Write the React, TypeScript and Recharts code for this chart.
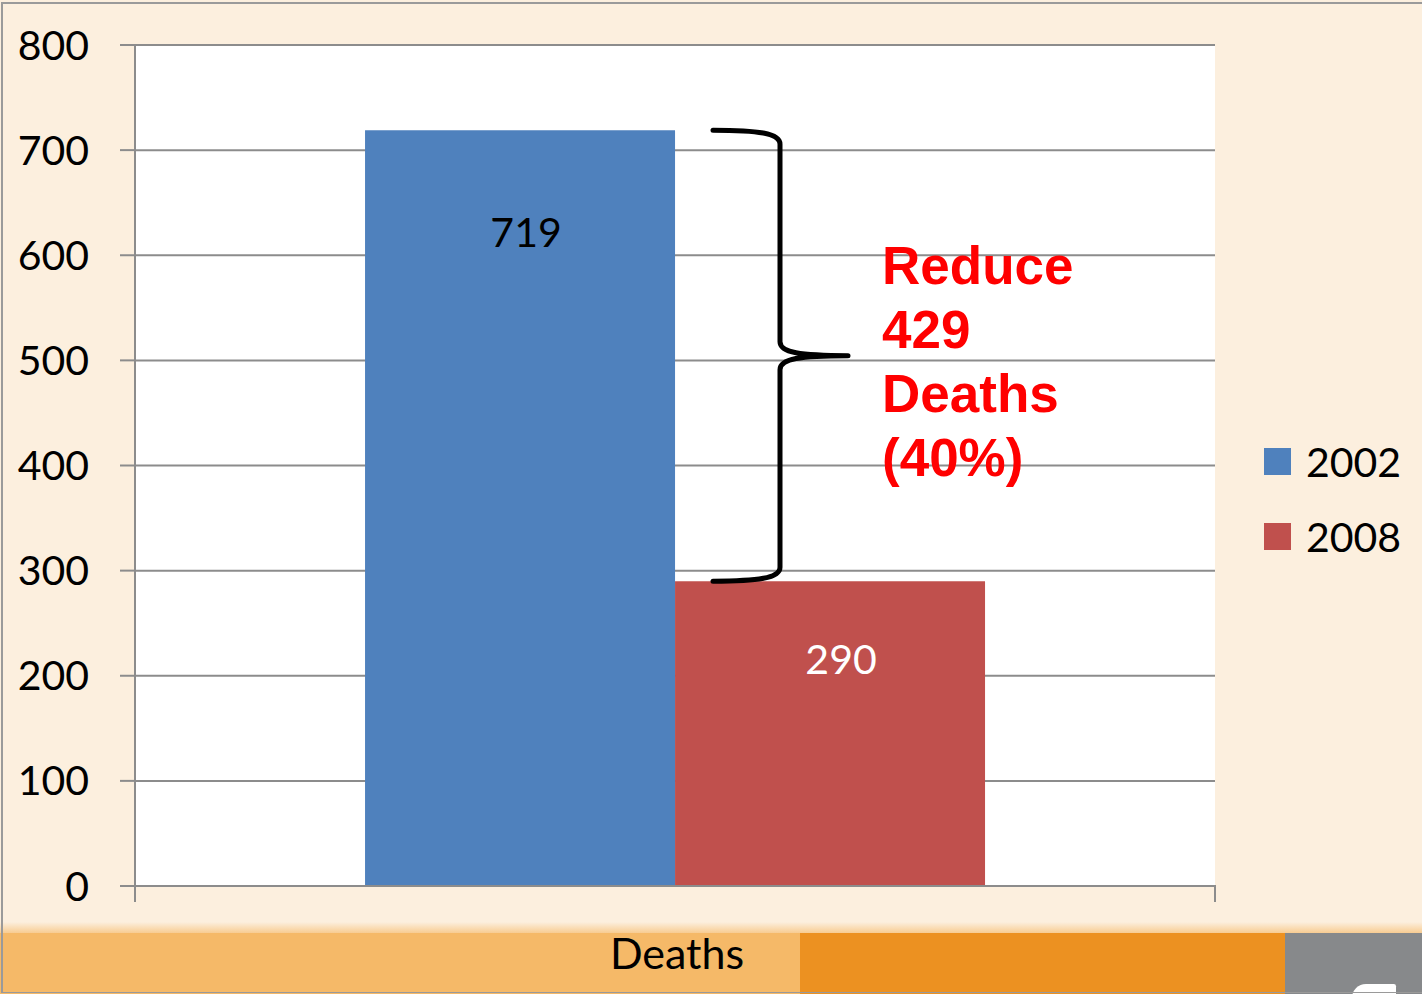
import React from 'react';
import {
  BarChart,
  Bar,
  XAxis,
  YAxis,
  CartesianGrid,
  Legend,
  LabelList,
  ReferenceLine,
} from 'recharts';

// values
const categories = ['Deaths'];
const deaths2002 = [719];
const deaths2008 = [290];
const yTicks = [0, 100, 200, 300, 400, 500, 600, 700, 800];
const noteLines = ['Reduce', '429', 'Deaths', '(40%)'];

const data = categories.map((c, i) => ({
  category: c,
  y2002: deaths2002[i],
  y2008: deaths2008[i],
}));

const CREAM = '#FCEFDE';
const GRID = '#8C8C8C';
const FONT = 'Lato, "Open Sans", sans-serif';

// x axis line with the end ticks (excel style)
const AxisBase = (p: any) => {
  const { x1, x2, y1 } = p;
  return (
    <g>
      <line x1={x1} y1={y1} x2={x2} y2={y1} stroke={GRID} strokeWidth={2} />
      <line x1={x1} y1={y1 - 1} x2={x1} y2={y1 + 16} stroke={GRID} strokeWidth={2} />
      <line x1={x2} y1={y1 - 1} x2={x2} y2={y1 + 16} stroke={GRID} strokeWidth={2} />
    </g>
  );
};

// curly brace between the two bar tops, with the red note
const Brace = (p: any) => {
  const { x1, y1, y2 } = p;
  const top = Math.min(y1, y2);
  const bot = Math.max(y1, y2);
  const mid = (top + bot) / 2;
  const a = x1 + 38;
  const s = x1 + 105;
  const t = x1 + 173;
  const d = [
    `M ${a} ${top} C ${a + 45} ${top}, ${s} ${top + 3}, ${s} ${top + 14}`,
    `L ${s} ${mid - 14} C ${s} ${mid - 3}, ${s + 20} ${mid}, ${t} ${mid}`,
    `M ${t} ${mid} C ${s + 20} ${mid}, ${s} ${mid + 3}, ${s} ${mid + 14}`,
    `L ${s} ${bot - 14} C ${s} ${bot - 3}, ${a + 45} ${bot}, ${a} ${bot}`,
  ].join(' ');
  return (
    <g>
      <path d={d} fill="none" stroke="#000" strokeWidth={5} strokeLinecap="round" />
      <text
        x={x1 + 207}
        y={mid - 72}
        fill="#FF0000"
        fontFamily='"Liberation Sans", Arial, sans-serif'
        fontWeight="bold"
        fontSize={53}
      >
        {noteLines.map((l, i) => (
          <tspan key={i} x={x1 + 207} dy={i === 0 ? 0 : 64}>
            {l}
          </tspan>
        ))}
      </text>
    </g>
  );
};

const LegendBox = ({ payload }: any) => (
  <div style={{ fontFamily: FONT }}>
    {(payload || []).map((e: any) => (
      <div
        key={e.value}
        style={{ display: 'flex', alignItems: 'center', height: 75 }}
      >
        <span style={{ width: 27, height: 27, background: e.color, display: 'inline-block' }} />
        <span style={{ marginLeft: 15, fontSize: 41, color: '#000', lineHeight: '41px' }}>
          {e.value}
        </span>
      </div>
    ))}
  </div>
);

const topLabel = (color: string, dy: number, dx: number) => (p: any) => {
  const { x, y, width, value } = p;
  return (
    <text
      x={x + width / 2 + dx}
      y={y + dy}
      textAnchor="middle"
      fill={color}
      fontFamily={FONT}
      fontSize={41}
    >
      {value}
    </text>
  );
};

export default function App() {
  return (
    <div
      style={{
        position: 'absolute',
        left: 0,
        top: 0,
        width: 1422,
        height: 994,
        background: CREAM,
        overflow: 'hidden',
      }}
    >
      {/* slide footer band */}
      <div style={{ position: 'absolute', left: 0, top: 922, width: 1422, height: 12, background: `linear-gradient(${CREAM}, #F7C98B)` }} />
      <div style={{ position: 'absolute', left: 0, top: 933, width: 800, height: 61, background: '#F5B968' }} />
      <div style={{ position: 'absolute', left: 800, top: 933, width: 485, height: 61, background: '#EC9121' }} />
      <div style={{ position: 'absolute', left: 1285, top: 933, width: 137, height: 61, background: '#87898B' }} />
      <div style={{ position: 'absolute', left: 1352, top: 984, width: 44, height: 14, background: '#fff', borderTopLeftRadius: 26, borderTopRightRadius: 4 }} />
      {/* slide frame */}
      <div style={{ position: 'absolute', left: 1, top: 2, right: 0, bottom: 1, borderLeft: '2px solid #9a9a9a', borderTop: '2px solid #9a9a9a', borderBottom: '1px solid #9a9a9a' }} />

      <div style={{ position: 'absolute', left: 0, top: 0 }}>
        <BarChart
          width={1422}
          height={994}
          data={data}
          margin={{ top: 45, right: 207, bottom: 0, left: 0 }}
          barCategoryGap="21.3%"
          barGap={0}
        >
          <CartesianGrid vertical={false} fill="#fff" stroke={GRID} strokeWidth={2} />
          <XAxis
            dataKey="category"
            height={108}
            axisLine={false}
            tickLine={false}
            tickSize={0}
            tickMargin={66}
            tick={(p: any) => (
              <text
                x={p.x + 2}
                y={p.y}
                textAnchor="middle"
                dominantBaseline="central"
                fill="#000"
                fontFamily={FONT}
                fontSize={43}
              >
                {p.payload.value}
              </text>
            )}
          />
          <YAxis
            width={135}
            domain={[0, 800]}
            ticks={yTicks}
            interval={0}
            axisLine={{ stroke: GRID, strokeWidth: 2 }}
            tickLine={{ stroke: GRID, strokeWidth: 2 }}
            tickSize={15}
            tickMargin={31}
            tick={{ fill: '#000', fontSize: 41, fontFamily: FONT }}
          />
          <Legend
            layout="vertical"
            align="center"
            verticalAlign="middle"
            wrapperStyle={{ left: 1264, top: 424, width: 158 }}
            content={<LegendBox />}
          />
          <Bar dataKey="y2002" name="2002" fill="#4F81BD" isAnimationActive={false}>
            <LabelList dataKey="y2002" content={topLabel('#000', 117, 6)} />
          </Bar>
          <Bar dataKey="y2008" name="2008" fill="#C0504D" isAnimationActive={false}>
            <LabelList dataKey="y2008" content={topLabel('#fff', 93, 11)} />
          </Bar>
          <ReferenceLine y={0} ifOverflow="visible" shape={AxisBase} />
          <ReferenceLine
            segment={[
              { x: categories[0], y: deaths2002[0] },
              { x: categories[0], y: deaths2008[0] },
            ]}
            ifOverflow="visible"
            shape={Brace}
          />
        </BarChart>
      </div>
    </div>
  );
}
